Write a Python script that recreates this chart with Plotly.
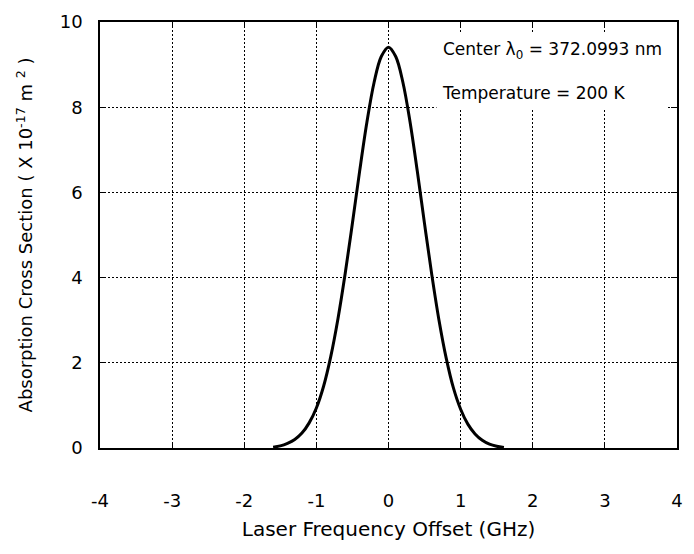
import plotly.graph_objects as go

# Absorption cross-section profile vs. laser frequency offset
freq_offset_ghz = [-1.6, -1.5, -1.4, -1.3, -1.2, -1.1, -1.0, -0.9, -0.8, -0.7, -0.6,
                   -0.5, -0.4, -0.3, -0.2, -0.1, 0.0, 0.1, 0.2, 0.3, 0.4, 0.5,
                   0.6, 0.7, 0.8, 0.9, 1.0, 1.1, 1.2, 1.3, 1.4, 1.5, 1.6]
cross_section = [0.02, 0.05, 0.11, 0.20, 0.35, 0.59, 0.94, 1.45, 2.15, 3.04, 4.10,
                 5.28, 6.50, 7.64, 8.58, 9.19, 9.41, 9.19, 8.58, 7.64, 6.49, 5.26,
                 4.07, 3.00, 2.11, 1.41, 0.91, 0.56, 0.33, 0.18, 0.09, 0.04, 0.01]

x_ticks = [-4, -3, -2, -1, 0, 1, 2, 3, 4]
x_tick_labels = ["-4", "-3", "-2", "-1", "0", "1", "2", "3", "4"]
y_ticks = [0, 2, 4, 6, 8, 10]
y_tick_labels = ["0", "2", "4", "6", "8", "10"]

font_family = "DejaVu Sans"

fig = go.Figure()
fig.add_trace(go.Scatter(
    x=freq_offset_ghz, y=cross_section, mode="lines",
    line=dict(color="black", width=3, shape="spline"),
    showlegend=False,
))

fig.add_annotation(
    xref="paper", yref="paper", x=0.985, y=0.975, xanchor="right", yanchor="top",
    align="left", showarrow=False, bgcolor="white", borderpad=5,
    text="Center λ<sub>0</sub> = 372.0993 nm<br><br>Temperature = 200 K",
    font=dict(family=font_family, size=17, color="black"),
)

axis_common = dict(
    showline=True, linecolor="black", linewidth=1.5, mirror="ticks",
    showgrid=True, gridcolor="black", griddash="2px,2px", gridwidth=1,
    zeroline=False, ticks="inside", ticklen=6, tickcolor="black",
    tickfont=dict(family=font_family, size=18, color="black"),
)

fig.update_xaxes(
    range=[-4, 4], tickvals=x_ticks, ticktext=x_tick_labels, ticklabelstandoff=36,
    title=dict(text="Laser Frequency Offset (GHz)", standoff=12,
               font=dict(family=font_family, size=20, color="black")),
    **axis_common,
)
fig.update_yaxes(
    range=[0, 10], tickvals=y_ticks, ticktext=y_tick_labels, ticklabelstandoff=12,
    title=dict(text="Absorption Cross Section ( X 10<sup>-17</sup> m <sup>2</sup> )",
               standoff=22, font=dict(family=font_family, size=18, color="black")),
    **axis_common,
)

fig.update_layout(
    width=694, height=554,
    margin=dict(l=100, r=11, t=21, b=106),
    plot_bgcolor="white", paper_bgcolor="white",
)

fig.write_html("out.html")
